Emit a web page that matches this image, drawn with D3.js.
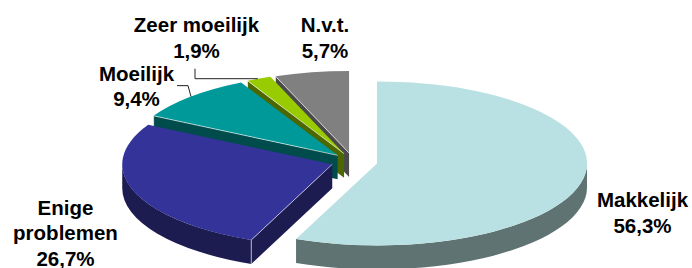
<!DOCTYPE html>
<html><head><meta charset="utf-8">
<script src="https://cdn.jsdelivr.net/npm/d3@7"></script>
<style>html,body{margin:0;padding:0;background:#fff;} svg{display:block}</style>
</head><body><svg id="c" width="692" height="268"></svg>
<script>
// ---- data ----
const categories = ["Makkelijk", "Enige problemen", "Moeilijk", "Zeer moeilijk", "N.v.t."];
const values = [56.3, 26.7, 9.4, 1.9, 5.7];
const topColors = ["#B9E0E3", "#333399", "#009999", "#99CC00", "#808080"];
const sideColors = ["#5F7373", "#1D1C50", "#004C4C", "#4C6600", "#4A4A4A"];

// ---- layout ----
const cx = 353, cy = 161.5, R = 210, ry = 82, k = ry / R, depth = 24, D = depth / k;
const explodeOf = name => name === "Makkelijk" ? 24.5 : 22;
const labelLayout = {
  "Makkelijk": {x: 642.5, y: 207, lines: ["Makkelijk"]},
  "Enige problemen": {x: 65.5, y: 214.5, lines: ["Enige", "problemen"]},
  "Moeilijk": {x: 136.5, y: 80.5, lines: ["Moeilijk"]},
  "Zeer moeilijk": {x: 196.5, y: 32, lines: ["Zeer moeilijk"]},
  "N.v.t.": {x: 325, y: 32, lines: ["N.v.t."]}
};
const lineH = 25.5;

const nl = d3.formatLocale({decimal: ",", thousands: ".", grouping: [3], currency: ["€", ""]});
const fmt = nl.format(".1f");

const svg = d3.select("#c");
const pie = d3.pie().sort(null).startAngle(0).endAngle(2 * Math.PI).value(d => d.value);
const data = categories.map((c, i) => ({name: c, value: values[i], top: topColors[i], side: sideColors[i]}));
const arcs = pie(data);
const arcGen = d3.arc().innerRadius(0).outerRadius(R);

arcs.forEach(a => {
  a.mid = (a.startAngle + a.endAngle) / 2;
  a.e = explodeOf(a.data.name);
  a.ox = a.e * Math.sin(a.mid);
  a.oy = -a.e * Math.cos(a.mid);
});

// draw back to front
const order = arcs.slice().sort((a, b) => (-Math.cos(a.mid)) - (-Math.cos(b.mid)));

const pt = (t, r) => [r * Math.sin(t), -r * Math.cos(t)];

order.forEach(a => {
  const g = svg.append("g")
    .attr("transform", `translate(${cx},${cy}) scale(1,${k}) translate(${a.ox},${a.oy})`);
  const s0 = a.startAngle, s1 = a.endAngle;
  // radial faces
  const faces = [];
  // start face normal at s0 - 90deg; visible if -cos(n) > 0
  if (-Math.cos(s0 - Math.PI / 2) > 1e-6) faces.push(s0);
  if (-Math.cos(s1 + Math.PI / 2) > 1e-6) faces.push(s1);
  // outer wall (front half between 90deg and 270deg)
  const ws = Math.max(s0, Math.PI / 2), we = Math.min(s1, 3 * Math.PI / 2);
  if (we > ws) {
    const p = d3.path();
    const [x0, y0] = pt(ws, R);
    p.moveTo(x0, y0);
    p.arc(0, 0, R, ws - Math.PI / 2, we - Math.PI / 2, false);
    const [x1, y1] = pt(we, R);
    p.lineTo(x1, y1 + D);
    p.arc(0, D, R, we - Math.PI / 2, ws - Math.PI / 2, true);
    p.closePath();
    g.append("path").attr("d", p.toString()).attr("fill", a.data.side);
  }
  faces.forEach(t => {
    const [x, y] = pt(t, R);
    g.append("path")
      .attr("d", `M0,0L${x},${y}L${x},${y + D}L0,${D}Z`)
      .attr("fill", a.data.side);
  });
  // top
  g.append("path").attr("d", arcGen(a)).attr("fill", a.data.top);
  // light edges on visible faces
  faces.forEach(t => {
    const [x, y] = pt(t, R);
    g.append("path")
      .attr("d", `M0,0L${x},${y}M${x},${y}L${x},${y + D}`)
      .attr("fill", "none")
      .attr("stroke", "rgba(255,255,255,0.75)")
      .attr("stroke-width", 0.8)
      .attr("vector-effect", "non-scaling-stroke");
  });
});

// anchors on rim
function rimPoint(a) {
  const [x, y] = pt(a.mid, R + a.e);
  return [cx + x, cy + y * k];
}

// leader lines
const byName = Object.fromEntries(arcs.map(a => [a.name = a.data.name, a]));
{
  const a = byName["Zeer moeilijk"];
  const [px, py] = rimPoint(a);
  const L = labelLayout["Zeer moeilijk"];
  svg.append("polyline")
    .attr("points", [[px - 1, py], [L.x - 1.5, py], [L.x - 1.5, py - 10]].map(p => p.join(",")).join(" "))
    .attr("fill", "none").attr("stroke", "#222").attr("stroke-width", 1);
}
{
  const a = byName["Moeilijk"];
  const [px, py] = rimPoint(a);
  svg.append("polyline")
    .attr("points", [[px, py], [px - 3, py - 11], [px - 14, py - 11]].map(p => p.join(",")).join(" "))
    .attr("fill", "none").attr("stroke", "#222").attr("stroke-width", 1);
}

// labels
arcs.forEach(a => {
  const L = labelLayout[a.data.name];
  const lines = L.lines.concat([fmt(a.data.value) + "%"]);
  const t = svg.append("text")
    .attr("text-anchor", "middle")
    .attr("font-family", "'Liberation Sans', Arial, sans-serif")
    .attr("font-weight", "bold")
    .attr("font-size", "20.5px")
    .attr("fill", "#000");
  lines.forEach((ln, i) => {
    t.append("tspan").attr("x", L.x).attr("y", L.y + i * lineH).text(ln);
  });
});
</script>
</body></html>
